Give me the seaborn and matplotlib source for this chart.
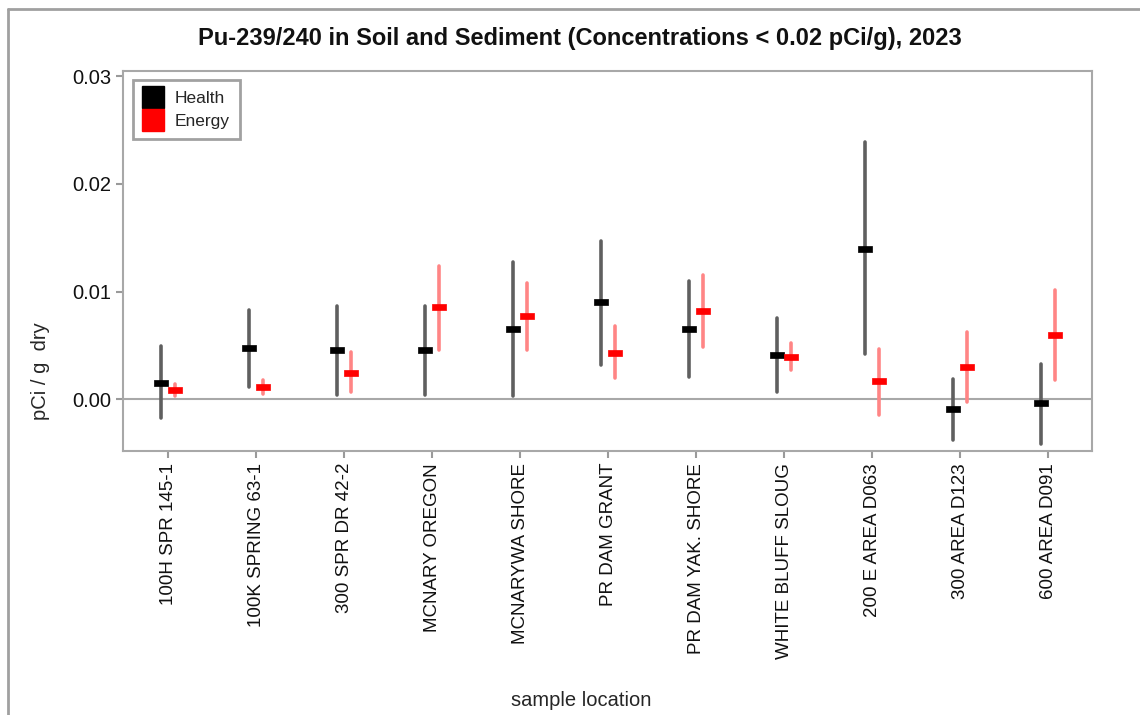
import matplotlib
matplotlib.use("Agg")
import matplotlib.pyplot as plt
from matplotlib.lines import Line2D
from matplotlib.path import Path
import pandas as pd
import seaborn as sns

# sample locations (x categories)
locations = ["100H SPR 145-1", "100K SPRING 63-1", "300 SPR DR 42-2", "MCNARY OREGON",
             "MCNARYWA SHORE", "PR DAM GRANT", "PR DAM YAK. SHORE", "WHITE BLUFF SLOUG",
             "200 E AREA D063", "300 AREA D123", "600 AREA D091"]

# Department of Health results (pCi/g dry): value, lower and upper bound
health_val = [0.00155, 0.0048, 0.00455, 0.00455, 0.0065, 0.0090, 0.0065, 0.0041, 0.0140, -0.00085, -0.00035]
health_lo = [-0.0017, 0.0012, 0.00045, 0.00045, 0.0003, 0.0032, 0.0021, 0.00065, 0.0042, -0.0038, -0.0041]
health_hi = [0.0050, 0.0083, 0.0087, 0.0087, 0.0128, 0.0147, 0.0110, 0.0076, 0.0239, 0.0019, 0.0033]

# Department of Energy results
energy_val = [0.0009, 0.0012, 0.0025, 0.0086, 0.0077, 0.00435, 0.0082, 0.00395, 0.0017, 0.0030, 0.0060]
energy_lo = [0.0003, 0.0005, 0.0007, 0.0046, 0.00455, 0.0020, 0.0049, 0.00275, -0.0014, -0.00025, 0.0018]
energy_hi = [0.00145, 0.00185, 0.0044, 0.0124, 0.0108, 0.00685, 0.01155, 0.00525, 0.00465, 0.0063, 0.0102]

series = ["Health", "Energy"]
bar_colors = {"Health": "#5f5f5f", "Energy": "#ff8585"}
mark_colors = {"Health": "#000000", "Energy": "#ff0000"}

# long table: three rows per location/series (low, value, high) -> median + full range
rows = []
for name, vals, los, his in [("Health", health_val, health_lo, health_hi),
                             ("Energy", energy_val, energy_lo, energy_hi)]:
    for loc, v, lo, hi in zip(locations, vals, los, his):
        for y in (lo, v, hi):
            rows.append({"location": loc, "source": name, "conc": y})
df = pd.DataFrame(rows)

sns.set_theme(style="ticks")
plt.rcParams["font.family"] = ["Liberation Sans", "DejaVu Sans"]

fig = plt.figure(figsize=(11.4, 7.15), dpi=100)
ax = fig.add_axes([0.108, 0.369, 0.850, 0.532])

# flat rectangle marker for the centre values
rect = Path([(-1, -0.42), (1, -0.42), (1, 0.42), (-1, 0.42), (-1, -0.42)], closed=True)

ax.axhline(0, color="#a8a8a8", lw=1.5, zorder=1)

# error bars
sns.pointplot(data=df, x="location", y="conc", hue="source", hue_order=series,
              order=locations, estimator="median", errorbar=("pi", 100),
              palette=bar_colors, dodge=0.16, linestyle="none", markers=[rect, rect],
              markersize=0, err_kws={"linewidth": 2.6}, legend=False, ax=ax)
# centre marks
sns.pointplot(data=df, x="location", y="conc", hue="source", hue_order=series,
              order=locations, estimator="median", errorbar=None,
              palette=mark_colors, dodge=0.16, linestyle="none", markers=[rect, rect],
              markersize=10, markeredgewidth=0.5, legend=False, ax=ax)

ax.set_xlim(-0.51, 10.5)
ax.set_ylim(-0.0048, 0.0305)
ax.set_yticks([0, 0.01, 0.02, 0.03])
ax.set_yticklabels(["0.00", "0.01", "0.02", "0.03"])
ax.tick_params(axis="both", colors="#9a9a9a", labelcolor="#111111",
               length=5, width=1.5)
ax.tick_params(axis="y", labelsize=14.5)
ax.tick_params(axis="x", labelrotation=90, labelsize=13.5)

for s in ax.spines.values():
    s.set_color("#a8a8a8")
    s.set_linewidth(1.5)

fig.text(580 / 1140, 1 - 38 / 715,
         "Pu-239/240 in Soil and Sediment (Concentrations < 0.02 pCi/g), 2023",
         fontsize=17, fontweight="bold", ha="center", va="center", color="#111111")
ax.set_xlabel("sample location", fontsize=14.5)
ax.set_ylabel("pCi / g  dry", fontsize=14.5)
ax.xaxis.set_label_coords(0.473, -0.63)
ax.yaxis.set_label_coords(-0.075, 0.21)

handles = [Line2D([], [], ls="none", marker="s", markersize=16,
                  markerfacecolor=mark_colors[s], markeredgecolor=mark_colors[s])
           for s in series]
leg = ax.legend(handles, series, loc="upper left", bbox_to_anchor=(0.0105, 0.975),
                fontsize=12.5, frameon=True, fancybox=False, handlelength=1.1,
                handletextpad=0.7, labelspacing=0.45, borderpad=0.6, borderaxespad=0)
leg.get_frame().set_edgecolor("#8a8a8a")
leg.get_frame().set_linewidth(2)

# outer window border (left and top)
fig.add_artist(Line2D([8 / 1140, 8 / 1140], [0, 1 - 9 / 715], color="#a0a0a0", lw=2))
fig.add_artist(Line2D([8 / 1140, 1], [1 - 9 / 715, 1 - 9 / 715], color="#a0a0a0", lw=2))

fig.savefig("out.png", dpi=100)
